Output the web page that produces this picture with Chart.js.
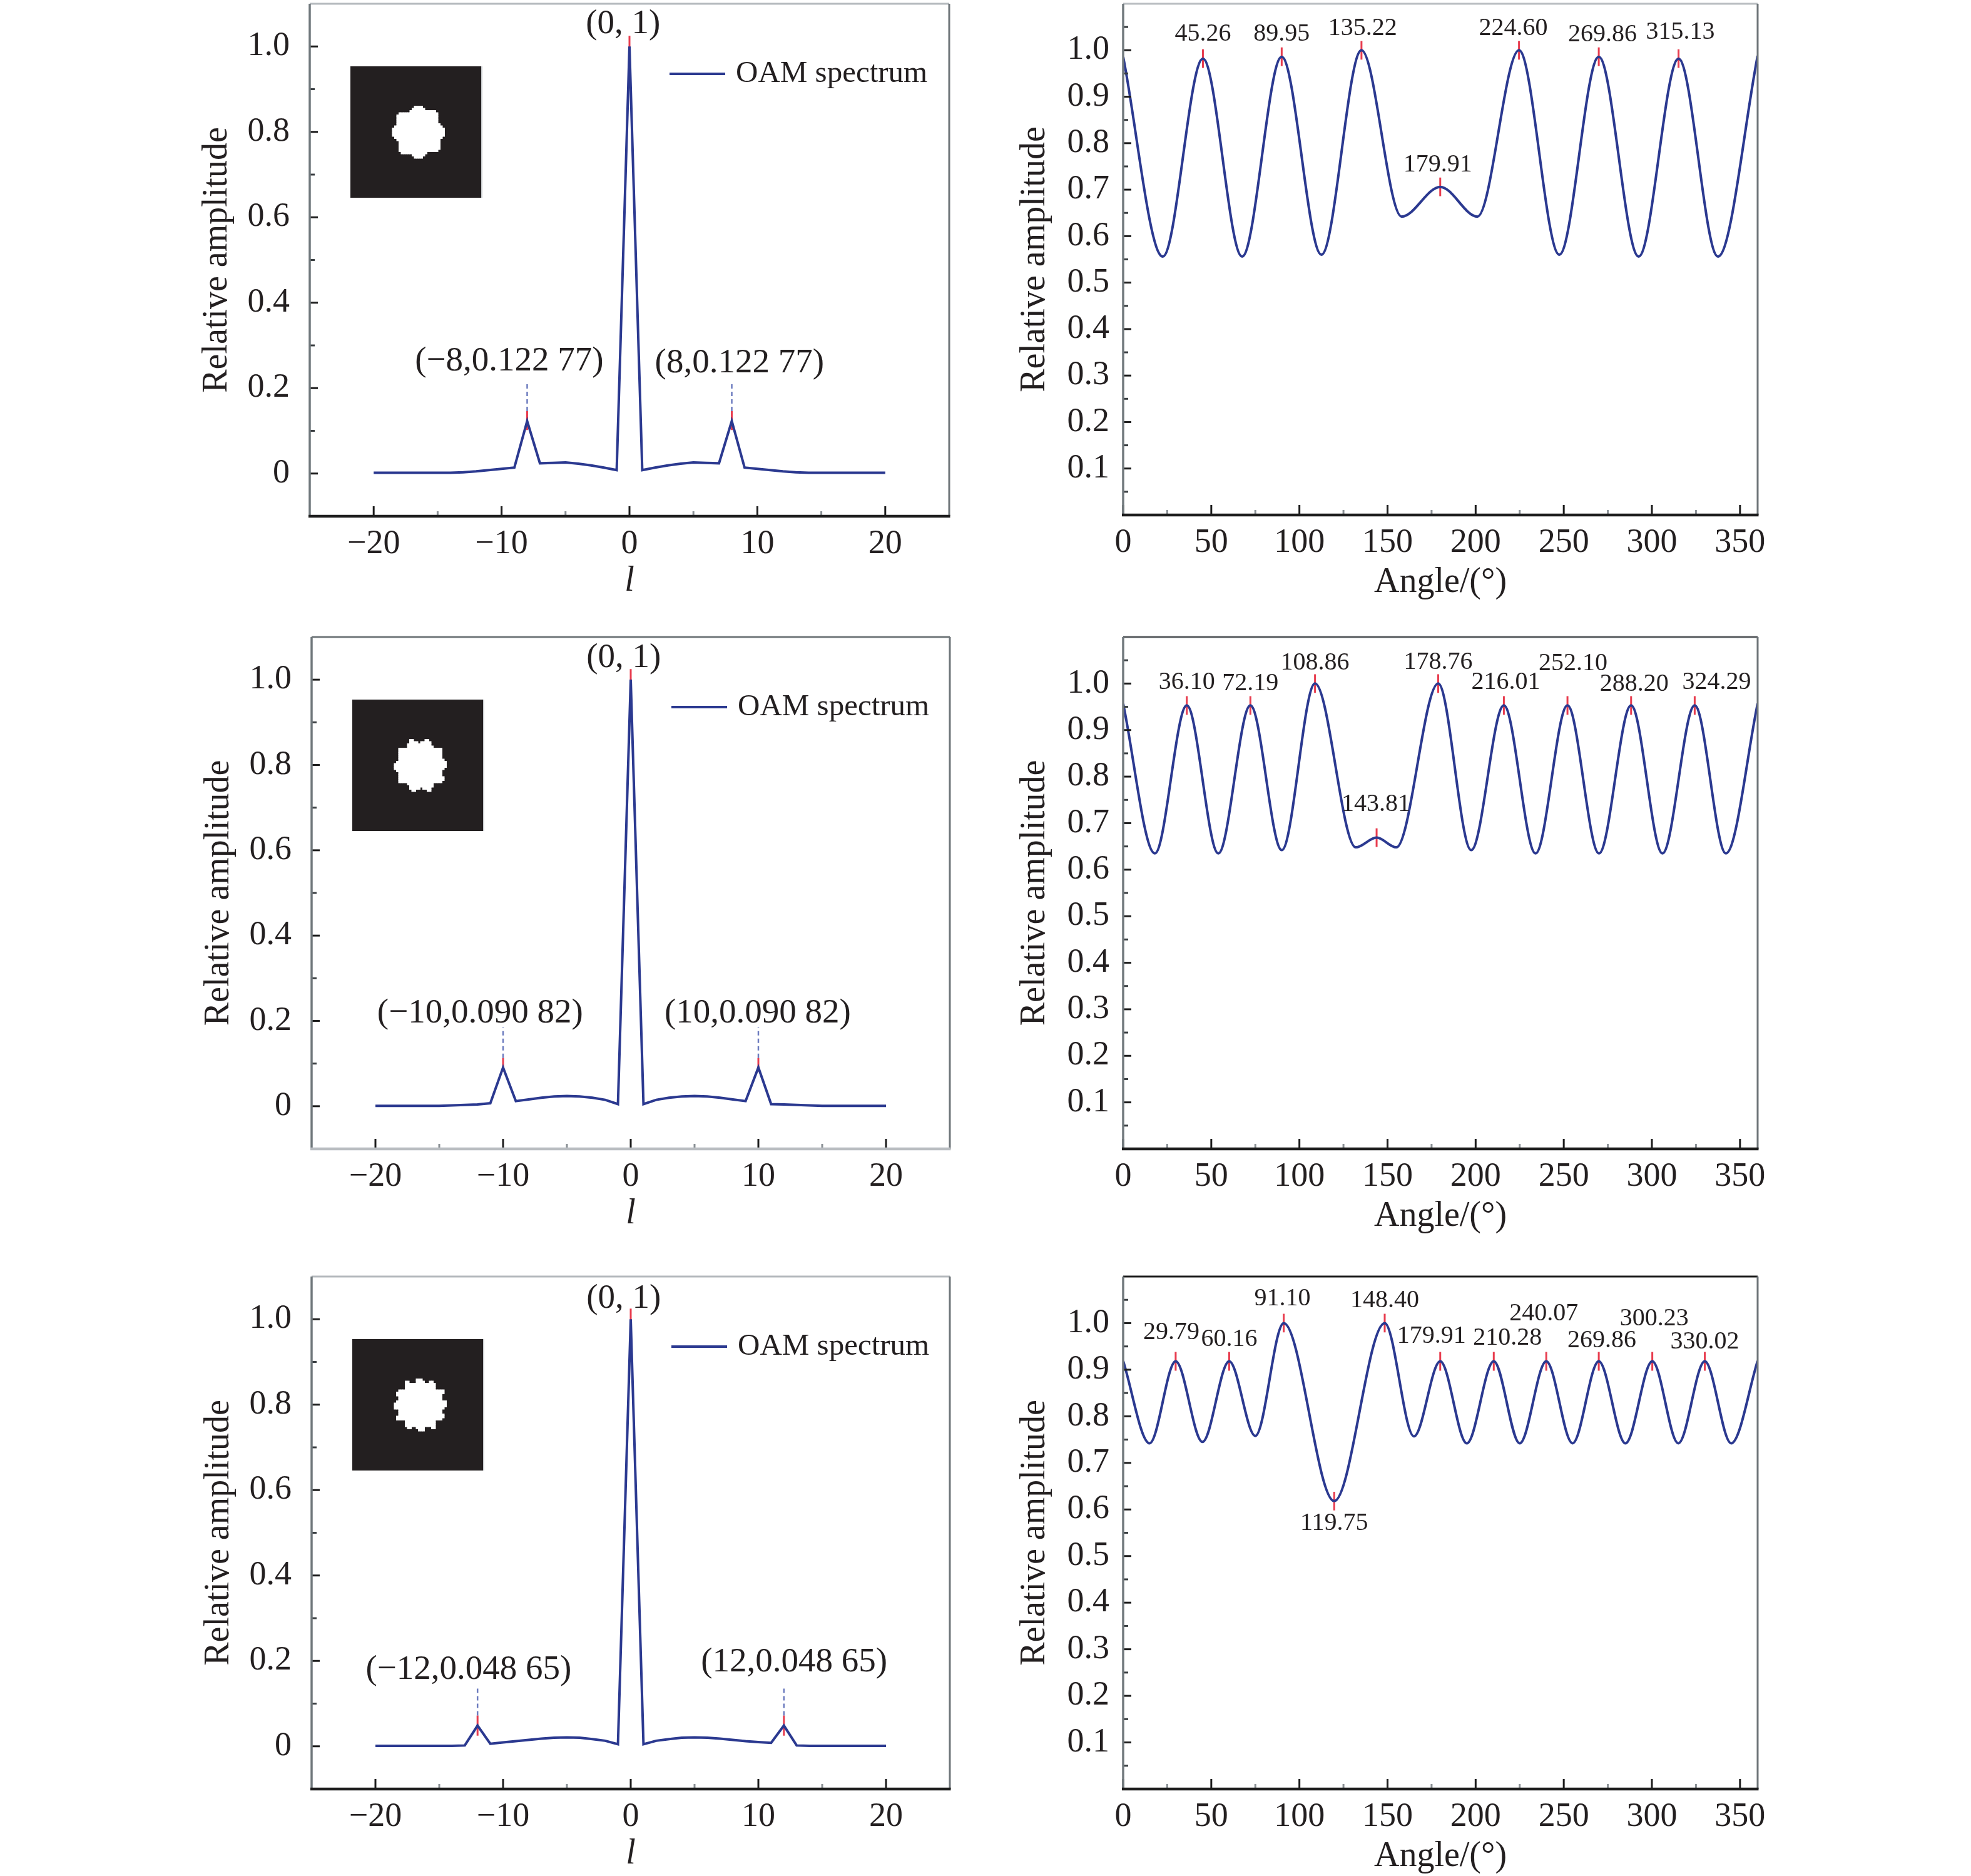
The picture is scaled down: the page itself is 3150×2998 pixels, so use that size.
<!DOCTYPE html>
<html>
<head>
<meta charset="utf-8">
<script src="https://cdn.jsdelivr.net/npm/chart.js@4.4.1/dist/chart.umd.min.js"></script>
<style>
  html, body { margin: 0; padding: 0; background: #fff; overflow: hidden; }
  #page { position: relative; width: 3150px; height: 2998px; background: #fff; }
  #page canvas { position: absolute; }
</style>
</head>
<body>
<div id="page"></div>
<script>
// --- OAM spectra (left column): topological charge l vs relative amplitude ---
const ELL = [-20,-19,-18,-17,-16,-15,-14,-13,-12,-11,-10,-9,-8,-7,-6,-5,-4,-3,-2,-1,0,
             1,2,3,4,5,6,7,8,9,10,11,12,13,14,15,16,17,18,19,20];

const AMP_A = [0.002,0.002,0.002,0.002,0.002,0.002,0.002,0.003,0.005,0.008,0.011,0.014,0.12277,
               0.024,0.025,0.026,0.023,0.019,0.014,0.008,1,
               0.008,0.014,0.019,0.023,0.026,0.025,0.024,0.12277,
               0.014,0.011,0.008,0.005,0.003,0.002,0.002,0.002,0.002,0.002,0.002,0.002];
const AMP_B = [0.001,0.001,0.001,0.001,0.001,0.001,0.002,0.003,0.004,0.007,0.09082,
               0.012,0.016,0.020,0.023,0.024,0.023,0.020,0.015,0.005,1,
               0.005,0.015,0.020,0.023,0.024,0.023,0.020,0.016,0.012,0.09082,
               0.005,0.004,0.003,0.002,0.001,0.001,0.001,0.001,0.001,0.001];
const AMP_C = [0.001,0.001,0.001,0.001,0.001,0.001,0.001,0.002,0.04865,
               0.006,0.009,0.012,0.015,0.018,0.020,0.021,0.020,0.017,0.013,0.005,1,
               0.005,0.013,0.017,0.020,0.021,0.020,0.018,0.015,0.012,0.010,0.008,0.04865,
               0.002,0.001,0.001,0.001,0.001,0.001,0.001,0.001];

// data cursor marks: [l, from, to]
const RED_A  = [[0, 0.98, 1.025], [-8, 0.102, 0.146], [8, 0.102, 0.146]];
const BLUE_A = [[-8, 0.146, 0.213], [8, 0.146, 0.213]];
const RED_B  = [[0, 0.98, 1.025], [-10, 0.081, 0.113], [10, 0.081, 0.113]];
const BLUE_B = [[-10, 0.113, 0.185], [10, 0.113, 0.185]];
const RED_C  = [[0, 0.98, 1.025], [-12, 0.025, 0.072], [12, 0.025, 0.072]];
const BLUE_C = [[-12, 0.072, 0.14], [12, 0.072, 0.14]];

// point labels: [text, l, amplitude] (centre of text)
const NOTES_A = [['(0, 1)', -0.5, 1.053], ['(\u22128,0.122 77)', -9.4, 0.262], ['(8,0.122 77)', 8.6, 0.258]];
const NOTES_B = [['(0, 1)', -0.55, 1.051], ['(\u221210,0.090 82)', -11.8, 0.217], ['(10,0.090 82)', 9.95, 0.217]];
const NOTES_C = [['(0, 1)', -0.55, 1.048], ['(\u221212,0.048 65)', -12.7, 0.179], ['(12,0.048 65)', 12.8, 0.197]];

const L_TICKS = [-20, -10, 0, 10, 20];
const L_MINOR = [-15, -5, 5, 15];
const AMP_TICKS = [0, 0.2, 0.4, 0.6, 0.8, 1.0];
const AMP_MINOR = [0.1, 0.3, 0.5, 0.7, 0.9];

// --- Angular profiles (right column): angle vs relative amplitude ---
const ANG_A = [0, 22.5, 45.26, 67.5, 89.95, 112.5, 135.22, 158, 179.91, 201, 224.60, 247.5, 269.86, 292.5, 315.13, 337.5, 360];
const REL_A = [0.986, 0.556, 0.982, 0.556, 0.986, 0.560, 1.0, 0.642, 0.706, 0.642, 1.0, 0.560, 0.986, 0.556, 0.982, 0.556, 0.988];

const ANG_B = [0, 18, 36.10, 54, 72.19, 90, 108.86, 132, 143.81, 155, 178.76, 197.5, 216.01, 234, 252.10, 270, 288.20, 306, 324.29, 342, 360];
const REL_B = [0.957, 0.635, 0.953, 0.635, 0.953, 0.642, 1.0, 0.648, 0.669, 0.648, 1.0, 0.642, 0.953, 0.635, 0.953, 0.635, 0.953, 0.635, 0.953, 0.635, 0.957];

const ANG_C = [0, 15, 29.79, 45, 60.16, 75, 91.10, 119.75, 148.40, 165, 179.91, 195, 210.28, 225, 240.07, 255, 269.86, 285, 300.23, 315, 330.02, 345, 360];
const REL_C = [0.919, 0.742, 0.918, 0.745, 0.918, 0.758, 1.0, 0.618, 1.0, 0.757, 0.918, 0.742, 0.918, 0.742, 0.918, 0.742, 0.918, 0.742, 0.918, 0.742, 0.918, 0.742, 0.919];

// marked extrema
const PEAK_ANG_A = [45.26, 89.95, 135.22, 179.91, 224.60, 269.86, 315.13];
const PEAK_VAL_A = [0.982, 0.986, 1.0, 0.706, 1.0, 0.986, 0.982];
const PEAK_ANG_B = [36.10, 72.19, 108.86, 143.81, 178.76, 216.01, 252.10, 288.20, 324.29];
const PEAK_VAL_B = [0.953, 0.953, 1.0, 0.669, 1.0, 0.953, 0.953, 0.953, 0.953];
const PEAK_ANG_C = [29.79, 60.16, 91.10, 119.75, 148.40, 179.91, 210.28, 240.07, 269.86, 300.23, 330.02];
const PEAK_VAL_C = [0.918, 0.918, 1.0, 0.618, 1.0, 0.918, 0.918, 0.918, 0.918, 0.918, 0.918];

// label offsets in px from the marked point: [dx, dy] (dy > 0 means above)
const LBL_OFF_A = [[0,39],[0,36],[2,35],[-4,35],[-9,35],[6,35],[3,42]];
const LBL_OFF_B = [[0,37],[0,35],[0,33],[-1,53],[0,34],[3,37],[9,67],[5,34],[35,37]];
const LBL_OFF_C = [[-7,46],[0,35],[-2,39],[0,-36],[0,36],[-14,40],[22,37],[-4,76],[5,33],[3,68],[0,31]];

const ANG_TICKS = [0, 50, 100, 150, 200, 250, 300, 350];
const ANG_MINOR = [25, 75, 125, 175, 225, 275, 325];
const REL_TICKS = [0.1, 0.2, 0.3, 0.4, 0.5, 0.6, 0.7, 0.8, 0.9, 1.0];
const REL_MINOR = [0.05, 0.15, 0.25, 0.35, 0.45, 0.55, 0.65, 0.75, 0.85, 0.95, 1.05];

const FONT = '"Liberation Serif", "Times New Roman", serif';
const LINE = '#2b3990';
const RED = 'rgba(230, 40, 60, 0.9)';
const INK = '#231f20';

function segments(list) {
  const out = [];
  list.forEach(([x, a, b]) => { out.push({x, y: a}, {x, y: b}, {x, y: null}); });
  return out;
}

function decor(cfg) {
  return {
    id: 'decor',
    afterDraw(chart) {
      const {ctx, chartArea: a} = chart;
      const sx = chart.scales.x, sy = chart.scales.y;
      ctx.save();
      const seg = (x1, y1, x2, y2, w, c) => {
        ctx.strokeStyle = c; ctx.lineWidth = w;
        ctx.beginPath(); ctx.moveTo(x1, y1); ctx.lineTo(x2, y2); ctx.stroke();
      };
      // inward ticks
      cfg.xMajor.forEach(v => { const p = sx.getPixelForValue(v); seg(p, a.bottom, p, a.bottom - 16, 3, '#1d1d1d'); });
      cfg.xMinor.forEach(v => { const p = sx.getPixelForValue(v); seg(p, a.bottom, p, a.bottom - 8, 3, '#8a9095'); });
      cfg.yMajor.forEach(v => { const p = sy.getPixelForValue(v); seg(a.left, p, a.left + 13, p, 3, '#1d1d1d'); });
      cfg.yMinor.forEach(v => { const p = sy.getPixelForValue(v); seg(a.left, p, a.left + 8, p, 3, '#3a3f42'); });
      // frame
      seg(a.left, a.top, a.right, a.top, 3, cfg.topColor);
      seg(a.right, a.top, a.right, a.bottom, 3, '#6e7579');
      seg(a.left, a.top, a.left, a.bottom + 2, 3.5, '#70787c');
      seg(a.left - 2, a.bottom, a.right + 1.5, a.bottom, 4.5, cfg.bottomColor);

      ctx.fillStyle = INK;
      // axis titles
      ctx.font = '56px ' + FONT;
      ctx.textAlign = 'center'; ctx.textBaseline = 'middle';
      ctx.save();
      ctx.translate(a.left - cfg.yTitleGap, (a.top + a.bottom) / 2);
      ctx.rotate(-Math.PI / 2);
      ctx.fillText('Relative amplitude', 0, 0);
      ctx.restore();
      ctx.font = (cfg.xItalic ? 'italic ' : '') + '56px ' + FONT;
      ctx.fillText(cfg.xTitle, (a.left + a.right) / 2, a.bottom + cfg.xTitleGap);

      // point labels on the spectrum
      if (cfg.notes) {
        ctx.font = '55px ' + FONT;
        cfg.notes.forEach(([t, x, y]) => ctx.fillText(t, sx.getPixelForValue(x), sy.getPixelForValue(y)));
      }
      // peak labels on the angular profile
      if (cfg.peaks) {
        ctx.font = '40px ' + FONT;
        cfg.peaks.ang.forEach((ang, i) => {
          const [dx, dy] = cfg.peaks.off[i];
          ctx.fillText(ang.toFixed(2), sx.getPixelForValue(ang) + dx, sy.getPixelForValue(cfg.peaks.val[i]) - dy);
        });
      }
      // legend
      if (cfg.legend) {
        const ly = a.top + 112;
        seg(a.left + 575, ly, a.left + 664, ly, 4, LINE);
        ctx.font = '49px ' + FONT;
        ctx.textAlign = 'left';
        ctx.fillText('OAM spectrum', a.left + 681, ly);
      }
      // inset: intensity pattern of the beam
      if (cfg.lobes) {
        const ix = a.left + 65, iy = a.top + 100, size = 210, n = 60, cell = size / n;
        ctx.fillStyle = INK;
        ctx.fillRect(ix, iy, size, size);
        ctx.fillStyle = '#ffffff';
        const cx = size * 0.517, cy = size * 0.5;
        for (let i = 0; i < n; i++) {
          for (let j = 0; j < n; j++) {
            const px = (i + 0.5) * cell - cx, py = (j + 0.5) * cell - cy;
            const r = Math.hypot(px, py), th = Math.atan2(py, px);
            if (r < 40 + 3.5 * Math.cos(cfg.lobes * th + 0.3)) ctx.fillRect(ix + i * cell, iy + j * cell, cell + 0.5, cell + 0.5);
          }
        }
        seg(ix + size, iy, ix + size, iy + size, 2, '#c9ccce');
      }
      ctx.restore();
    }
  };
}

function scaleOpts(min, max, ticks, fmt, pad, fit) {
  return {
    type: 'linear', min, max,
    afterBuildTicks: s => { s.ticks = ticks.map(v => ({value: v})); },
    afterFit: fit,
    grid: {display: false, drawTicks: false},
    border: {display: false},
    ticks: {autoSkip: false, maxRotation: 0, padding: pad, color: INK,
            font: {family: FONT, size: 54}, callback: fmt}
  };
}

function makeChart(box, rect, datasets, axes, cfg) {
  const [bx, by, bw, bh] = box;
  const [l, t, r, b] = rect;
  const cv = document.createElement('canvas');
  cv.width = bw; cv.height = bh;
  cv.style.left = bx + 'px'; cv.style.top = by + 'px';
  cv.style.width = bw + 'px'; cv.style.height = bh + 'px';
  document.getElementById('page').appendChild(cv);
  const yw = l - bx, xh = by + bh - b;
  new Chart(cv, {
    type: 'line',
    data: {datasets},
    options: {
      responsive: false, animation: false, devicePixelRatio: 1,
      layout: {padding: {top: t - by, right: bx + bw - r, left: 0, bottom: 0}},
      plugins: {legend: {display: false}, tooltip: {enabled: false}},
      elements: {point: {radius: 0}},
      scales: {
        x: scaleOpts(axes.x[0], axes.x[1], axes.x[2], axes.x[3], 12, s => {
          s.height = xh; s.paddingLeft = 0; s.paddingRight = 0;
        }),
        y: scaleOpts(axes.y[0], axes.y[1], axes.y[2], axes.y[3], axes.yPad, s => {
          s.width = yw; s.paddingTop = 0; s.paddingBottom = 0;
        })
      }
    },
    plugins: [decor(cfg)]
  });
}

const fmtL = v => (v < 0 ? '\u2212' + Math.abs(v) : String(v));
const fmtAmp = v => (v === 0 ? '0' : v.toFixed(1));
const fmtAng = v => String(v);
const fmtRel = v => v.toFixed(1);

// left column
[
  {amp: AMP_A, red: RED_A, blue: BLUE_A, notes: NOTES_A, lobes: 8, rect: [495, 6, 1517, 825], bottom: '#1d1d1d', top: '#b5b9bd'},
  {amp: AMP_B, red: RED_B, blue: BLUE_B, notes: NOTES_B, lobes: 10, rect: [498, 1018, 1518, 1836], bottom: '#b9bdc1', top: '#6e7579'},
  {amp: AMP_C, red: RED_C, blue: BLUE_C, notes: NOTES_C, lobes: 12, rect: [498, 2040, 1518, 2859], bottom: '#1d1d1d', top: '#b5b9bd'}
].forEach(p => {
  const [l, t, r, b] = p.rect;
  const box = [260, t - 6, 1560 - 260, b + 150 - (t - 6)];
  makeChart(box, p.rect, [
    {data: ELL.map((x, i) => ({x, y: p.amp[i]})), borderColor: LINE, borderWidth: 4, tension: 0},
    {data: segments(p.blue), borderColor: 'rgba(60, 80, 170, 0.75)', borderWidth: 2.5, borderDash: [7, 5], spanGaps: false},
    {data: segments(p.red), borderColor: RED, borderWidth: 3, spanGaps: false}
  ], {
    x: [-25, 25, L_TICKS, fmtL], y: [-0.1, 1.1, AMP_TICKS, fmtAmp], yPad: 32
  }, {
    xMajor: L_TICKS, xMinor: L_MINOR, yMajor: AMP_TICKS, yMinor: AMP_MINOR,
    topColor: p.top, bottomColor: p.bottom, yTitleGap: 148, xTitle: 'l', xItalic: true, xTitleGap: 104,
    notes: p.notes, legend: true, lobes: p.lobes
  });
});

// right column
[
  {ang: ANG_A, rel: REL_A, pa: PEAK_ANG_A, pv: PEAK_VAL_A, off: LBL_OFF_A, rect: [1795, 6, 2809, 823], top: '#b9bdc1'},
  {ang: ANG_B, rel: REL_B, pa: PEAK_ANG_B, pv: PEAK_VAL_B, off: LBL_OFF_B, rect: [1795, 1018, 2809, 1836], top: '#55595c'},
  {ang: ANG_C, rel: REL_C, pa: PEAK_ANG_C, pv: PEAK_VAL_C, off: LBL_OFF_C, rect: [1795, 2040, 2809, 2859], top: '#1d1d1d'}
].forEach(p => {
  const [l, t, r, b] = p.rect;
  const box = [1580, t - 6, 3140 - 1580, b + 150 - (t - 6)];
  makeChart(box, p.rect, [
    {data: p.ang.map((x, i) => ({x, y: p.rel[i]})), borderColor: LINE, borderWidth: 4, cubicInterpolationMode: 'monotone'},
    {data: segments(p.pa.map((x, i) => [x, p.pv[i] - 0.02, p.pv[i] + 0.02])), borderColor: RED, borderWidth: 3, spanGaps: false}
  ], {
    x: [0, 360, ANG_TICKS, fmtAng], y: [0, 1.1, REL_TICKS, fmtRel], yPad: 22
  }, {
    xMajor: ANG_TICKS, xMinor: ANG_MINOR, yMajor: REL_TICKS, yMinor: REL_MINOR,
    topColor: p.top, bottomColor: '#1d1d1d', yTitleGap: 141, xTitle: 'Angle/(\u00b0)', xItalic: false, xTitleGap: 108,
    peaks: {ang: p.pa, val: p.pv, off: p.off}
  });
});
</script>
</body>
</html>
